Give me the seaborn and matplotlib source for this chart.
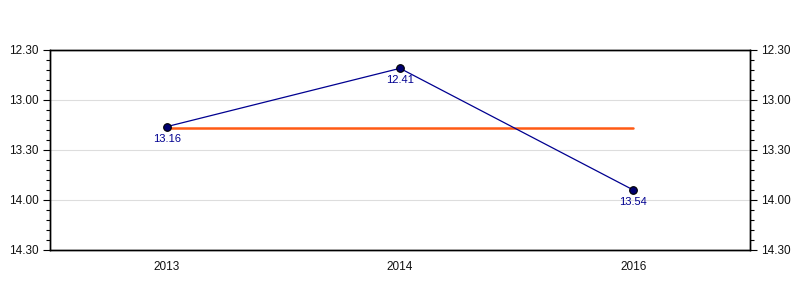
import pandas as pd
import matplotlib
matplotlib.use("Agg")
import matplotlib.pyplot as plt
from matplotlib.ticker import FixedLocator, MultipleLocator, FuncFormatter
import seaborn as sns

# data: race times as minutes.seconds
years = ["2013", "2014", "2016"]
times = ["13.16", "12.41", "13.54"]


def to_seconds(t):
    m, s = t.split(".")
    return int(m) * 60 + int(s)


def fmt_time(v, pos=None):
    v = int(round(v))
    return f"{v // 60}.{v % 60:02d}"


secs = [to_seconds(t) for t in times]
df = pd.DataFrame({"year": years, "secs": secs, "label": times})
avg = sum(secs) / len(secs)
df_avg = pd.DataFrame({"year": years, "secs": [avg] * len(years)})

sns.set_theme(style="white")
plt.rcParams["font.family"] = ["Liberation Sans", "DejaVu Sans"]

fig = plt.figure(figsize=(8, 3), dpi=100)
ax = fig.add_axes([0.0625, 1 / 6, 0.875, 2 / 3])

navy = "#000090"
sns.lineplot(data=df_avg, x="year", y="secs", color="#ff5a14", linewidth=1.8,
             ax=ax, zorder=2)
sns.lineplot(data=df, x="year", y="secs", color=navy, linewidth=0.9,
             marker="o", markersize=5.5, markerfacecolor="#000070",
             markeredgecolor="black", markeredgewidth=0.8, ax=ax, zorder=3)

for i, row in df.iterrows():
    ax.annotate(row["label"], (i, row["secs"]), xytext=(0, -5),
                textcoords="offset points", ha="center", va="top",
                fontsize=8, color=navy)

ymin, ymax = 750, 870
ax.set_xlim(-0.5, 2.5)
ax.set_ylim(ymax, ymin)
major = [750, 780, 810, 840, 870]
ax.yaxis.set_major_locator(FixedLocator(major))
ax.yaxis.set_minor_locator(MultipleLocator(6))
ax.yaxis.set_major_formatter(FuncFormatter(fmt_time))
ax.set_xlabel("")
ax.set_ylabel("")

ax.grid(axis="y", which="major", color="#dddddd", linewidth=0.8)
ax.set_axisbelow(True)
for s in ax.spines.values():
    s.set_color("black")
    s.set_linewidth(1.0)

ax.tick_params(axis="y", which="major", direction="out", length=5, width=0.8,
               color="black", labelsize=8.5, labelcolor="#111111", pad=3)
ax.tick_params(axis="y", which="minor", direction="out", length=3, width=0.8,
               color="black", left=True)
ax.tick_params(axis="x", which="major", direction="out", length=4, width=0.8,
               color="black", labelsize=8.5, labelcolor="#111111", pad=4)

ax2 = ax.twinx()
ax2.set_ylim(ymax, ymin)
ax2.yaxis.set_major_locator(FixedLocator(major))
ax2.yaxis.set_minor_locator(MultipleLocator(6))
ax2.yaxis.set_major_formatter(FuncFormatter(fmt_time))
ax2.grid(False)
for s in ax2.spines.values():
    s.set_color("black")
    s.set_linewidth(1.0)
ax2.tick_params(axis="y", which="major", direction="out", length=5, width=0.8,
                color="black", labelsize=8.5, labelcolor="#111111", pad=3,
                right=True)
ax2.tick_params(axis="y", which="minor", direction="out", length=3, width=0.8,
                color="black", right=True)

fig.savefig("out.png", dpi=100)
